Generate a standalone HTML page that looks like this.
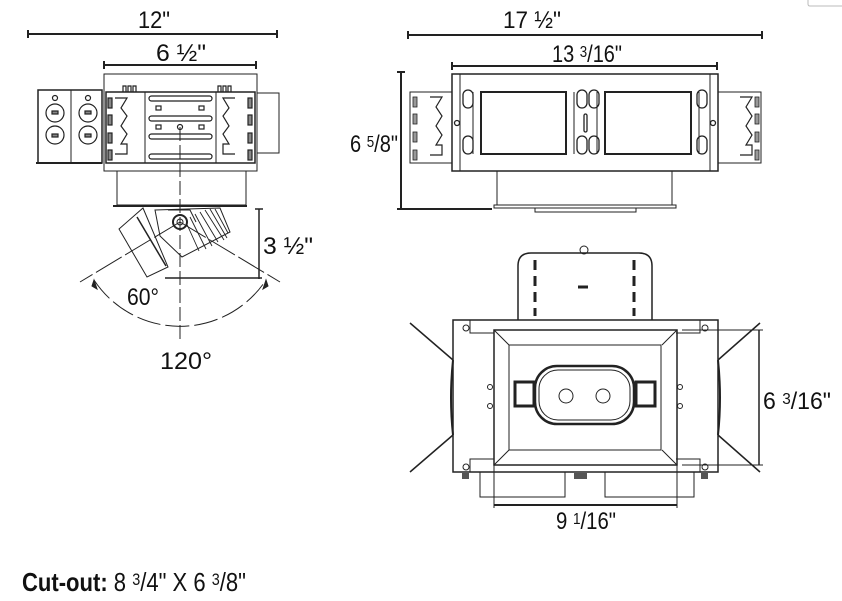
<!DOCTYPE html>
<html><head><meta charset="utf-8"><style>
html,body{margin:0;padding:0;background:#fff;}
svg{display:block;}
text{font-family:"Liberation Sans Narrow","Liberation Sans",sans-serif;fill:#111;}
</style></head><body>
<svg width="842" height="601" viewBox="0 0 842 601" xmlns="http://www.w3.org/2000/svg" fill="none" stroke="#222" stroke-width="1">
<!-- top-left view -->
<text x="138" y="28" font-size="24" textLength="32" lengthAdjust="spacingAndGlyphs" stroke="none">12"</text>
<line x1="28" y1="34" x2="277" y2="34" stroke-width="2"/>
<line x1="28" y1="30" x2="28" y2="38" stroke-width="2"/><line x1="277" y1="30" x2="277" y2="38" stroke-width="2"/>
<text x="156" y="61" font-size="24" textLength="50" lengthAdjust="spacingAndGlyphs" stroke="none">6 ½"</text>
<line x1="104" y1="65" x2="256" y2="65" stroke-width="2"/>
<line x1="104" y1="61" x2="104" y2="69" stroke-width="2"/><line x1="256" y1="61" x2="256" y2="69" stroke-width="2"/>
<rect x="104" y="74" width="153" height="97"/>
<rect x="106" y="92" width="149" height="71" stroke-width="1.5"/>
<line x1="145" y1="92" x2="145" y2="163"/><line x1="216" y1="92" x2="216" y2="163"/>
<g stroke-width="1.2">
<rect x="149" y="96" width="63" height="5" rx="2.5"/><rect x="149" y="116" width="63" height="5" rx="2.5"/>
<rect x="149" y="134" width="63" height="5" rx="2.5"/><rect x="149" y="154" width="63" height="5" rx="2.5"/>
<rect x="156" y="106" width="5" height="4"/><rect x="199" y="106" width="5" height="4"/>
<rect x="156" y="125" width="5" height="4"/><rect x="199" y="125" width="5" height="4"/>
<circle cx="180" cy="127" r="2.5"/>
<path d="M115 98h12l-6 10 6 8-6 10 6 8-6 10h6v10h-12 M235 98h-12l6 10-6 8 6 10-6 8 6 10h-6v10h12"/>
<rect x="108" y="98" width="4" height="10" fill="#888"/><rect x="108" y="115" width="4" height="10" fill="#888"/><rect x="108" y="133" width="4" height="10" fill="#888"/><rect x="108" y="150" width="4" height="10" fill="#888"/>
<rect x="248" y="98" width="4" height="10" fill="#888"/><rect x="248" y="115" width="4" height="10" fill="#888"/><rect x="248" y="133" width="4" height="10" fill="#888"/><rect x="248" y="150" width="4" height="10" fill="#888"/>
<path d="M123 92v-6h3v6 M128 92v-6h3v6 M133 92v-6h3v6 M218 92v-6h3v6 M223 92v-6h3v6 M228 92v-6h3v6"/>
</g>
<rect x="257" y="93" width="22" height="60"/>
<rect x="38" y="90" width="64" height="73" stroke-width="1.5"/>
<line x1="71" y1="90" x2="71" y2="163"/>
<g stroke-width="1.2">
<circle cx="55" cy="113" r="9"/><circle cx="55" cy="135" r="9"/><circle cx="88" cy="113" r="9"/><circle cx="88" cy="135" r="9"/>
<rect x="52" y="111" width="6" height="3" fill="#888"/><rect x="52" y="134" width="6" height="3" fill="#888"/><rect x="85" y="111" width="6" height="3" fill="#888"/><rect x="85" y="134" width="6" height="3" fill="#888"/>
<circle cx="55" cy="98" r="2.5"/><circle cx="88" cy="98" r="2.5"/>
</g>
<line x1="36" y1="163" x2="102" y2="163" stroke-width="2"/>
<rect x="117" y="171" width="129" height="34"/>
<line x1="113" y1="206" x2="247" y2="206" stroke-width="2"/>
<!-- fixture -->
<polygon points="119,229 143,208 168,267 147,277" fill="#fff"/>
<line x1="137" y1="217" x2="166" y2="266" stroke-width="1.5"/>
<polygon points="155,210 220,208 230,232 182,257 160,236" fill="#fff"/>
<path d="M200 212l18 30 M205 210l19 30 M210 209l17 29 M215 209l13 24 M195 214l17 32 M190 217l16 32 M185 220l14 31" stroke-width="0.9"/>
<path d="M168 210h22l6 12" />
<circle cx="180" cy="222" r="7" stroke-width="2" fill="#fff"/><circle cx="180" cy="222" r="3"/>
<line x1="180" y1="127" x2="180" y2="340" stroke-dasharray="14 4"/>
<line x1="259" y1="209" x2="259" y2="279" stroke-width="1.5"/>
<line x1="255" y1="209" x2="263" y2="209" stroke-width="1.5"/>
<line x1="165" y1="278" x2="262" y2="278" stroke-width="1.5"/>
<text x="263" y="254" font-size="24" textLength="50" lengthAdjust="spacingAndGlyphs" stroke="none">3 ½"</text>
<line x1="180" y1="222" x2="80" y2="282" stroke-dasharray="30 4"/>
<line x1="180" y1="222" x2="280" y2="282" stroke-dasharray="30 4"/>
<path d="M94 280 A103 103 0 0 0 266 280" stroke-dasharray="24 5"/>
<path d="M94 280l3 9-5-3z M266 280l-3 9 5-3z" fill="#222"/>
<text x="127" y="305" font-size="24" textLength="32" lengthAdjust="spacingAndGlyphs" stroke="none">60°</text>
<text x="160" y="369" font-size="24" textLength="52" lengthAdjust="spacingAndGlyphs" stroke="none">120°</text>

<!-- top-right view -->
<text x="503" y="28" font-size="24" textLength="58" lengthAdjust="spacingAndGlyphs" stroke="none">17 ½"</text>
<line x1="408" y1="35" x2="762" y2="35" stroke-width="2"/>
<line x1="408" y1="31" x2="408" y2="39" stroke-width="2"/><line x1="762" y1="31" x2="762" y2="39" stroke-width="2"/>
<text x="552" y="62" font-size="24" textLength="70" lengthAdjust="spacingAndGlyphs" stroke="none">13 <tspan font-size="16" dy="-5">3</tspan><tspan dy="5">/16"</tspan></text>
<line x1="452" y1="66" x2="717" y2="66" stroke-width="2"/>
<line x1="452" y1="62" x2="452" y2="70" stroke-width="2"/><line x1="717" y1="62" x2="717" y2="70" stroke-width="2"/>
<rect x="452" y="74" width="266" height="97" stroke-width="1.5"/>
<line x1="460" y1="74" x2="460" y2="171"/><line x1="710" y1="74" x2="710" y2="171"/>
<rect x="481" y="92" width="85" height="62" stroke-width="2"/>
<rect x="605" y="92" width="86" height="62" stroke-width="2"/>
<line x1="473" y1="92" x2="473" y2="154"/><line x1="574" y1="92" x2="574" y2="154"/><line x1="597" y1="92" x2="597" y2="154"/><line x1="699" y1="92" x2="699" y2="154"/>
<g stroke-width="1.3">
<rect x="463" y="90" width="10" height="18" rx="5"/><rect x="463" y="136" width="10" height="18" rx="5"/>
<rect x="577" y="90" width="10" height="18" rx="5"/><rect x="589" y="90" width="10" height="18" rx="5"/>
<rect x="577" y="136" width="10" height="18" rx="5"/><rect x="589" y="136" width="10" height="18" rx="5"/>
<rect x="697" y="90" width="10" height="18" rx="5"/><rect x="697" y="136" width="10" height="18" rx="5"/>
<rect x="584" y="114" width="3" height="18" rx="1.5"/>
<circle cx="457" cy="123" r="2.5"/><circle cx="713" cy="123" r="2.5"/>
</g>
<rect x="410" y="92" width="42" height="71"/>
<rect x="718" y="92" width="43" height="71"/>
<path d="M430 97h12l-6 10 6 9-6 10 6 9-6 10h6v10h-12 M740 97h12l-6 10 6 9-6 10 6 9-6 10h6v10h-12" stroke-width="1.2"/>
<g fill="#999" stroke-width="0.8"><rect x="413" y="97" width="4" height="10"/><rect x="413" y="114" width="4" height="10"/><rect x="413" y="132" width="4" height="10"/><rect x="413" y="150" width="4" height="10"/>
<rect x="755" y="97" width="4" height="10"/><rect x="755" y="114" width="4" height="10"/><rect x="755" y="132" width="4" height="10"/><rect x="755" y="150" width="4" height="10"/></g>
<rect x="497" y="171" width="175" height="34"/>
<rect x="494" y="205" width="182" height="3"/>
<rect x="535" y="208" width="101" height="4"/>
<line x1="401" y1="72" x2="401" y2="209" stroke-width="2"/>
<line x1="397" y1="72" x2="405" y2="72" stroke-width="2"/><line x1="397" y1="209" x2="492" y2="209" stroke-width="2"/>
<text x="350" y="152" font-size="24" textLength="48" lengthAdjust="spacingAndGlyphs" stroke="none">6 <tspan font-size="16" dy="-5">5</tspan><tspan dy="5">/8"</tspan></text>

<!-- bottom-right view -->
<path d="M518 320V266q0-13 13-13h108q13 0 13 13v54" stroke-width="1.5"/>
<path d="M535 260v10 M535 276v10 M535 292v10 M535 308v8 M634 260v10 M634 276v10 M634 292v10 M634 308v8 M578 287h10" stroke-width="3"/>
<rect x="580" y="246" width="8" height="8" rx="4"/>
<rect x="453" y="320" width="265" height="152" stroke-width="1.5"/>
<path d="M470 320v13h24 M700 320v13h-24 M470 472v-13h24 M700 472v-13h-24"/>
<rect x="494" y="330" width="183" height="135" stroke-width="1.5"/>
<rect x="509" y="345" width="152" height="105"/>
<path d="M494 330l15 15 M677 330l-15 15 M494 465l15-15 M677 465l-15-15"/>
<rect x="535" y="366" width="99" height="58" rx="22" stroke-width="2.5"/>
<rect x="539" y="370" width="91" height="50" rx="19"/>
<circle cx="566" cy="396" r="7"/><circle cx="603" cy="396" r="7"/>
<rect x="515" y="382" width="19" height="24" stroke-width="3"/>
<rect x="636" y="382" width="19" height="24" stroke-width="3"/>
<g stroke-width="1"><circle cx="466" cy="328" r="3"/><circle cx="705" cy="328" r="3"/><circle cx="466" cy="467" r="3"/><circle cx="705" cy="467" r="3"/>
<circle cx="490" cy="387" r="2.5"/><circle cx="490" cy="406" r="2.5"/><circle cx="680" cy="387" r="2.5"/><circle cx="680" cy="406" r="2.5"/></g>
<path d="M480 472v25h85v-25 M605 472v25h89v-25"/>
<g fill="#555" stroke="none"><rect x="462" y="473" width="7" height="6"/><rect x="574" y="473" width="13" height="6"/><rect x="701" y="473" width="7" height="6"/></g>
<line x1="410" y1="323" x2="453" y2="360" stroke-width="1.5"/>
<line x1="410" y1="472" x2="453" y2="435" stroke-width="1.5"/>
<line x1="760" y1="323" x2="718" y2="360" stroke-width="1.5"/>
<line x1="760" y1="472" x2="718" y2="435" stroke-width="1.5"/>
<path d="M453 360q-4 38 0 75 M718 360q4 38 0 75" stroke-width="2"/>
<line x1="759" y1="330" x2="759" y2="465" stroke-width="1.5"/>
<line x1="682" y1="330" x2="763" y2="330"/><line x1="682" y1="465" x2="763" y2="465"/>
<text x="763" y="409" font-size="24" textLength="68" lengthAdjust="spacingAndGlyphs" stroke="none">6 <tspan font-size="16" dy="-5">3</tspan><tspan dy="5">/16"</tspan></text>
<line x1="494" y1="505" x2="677" y2="505" stroke-width="2"/>
<line x1="494" y1="465" x2="494" y2="508"/><line x1="677" y1="465" x2="677" y2="508"/>
<text x="556" y="529" font-size="24" textLength="60" lengthAdjust="spacingAndGlyphs" stroke="none">9 <tspan font-size="16" dy="-5">1</tspan><tspan dy="5">/16"</tspan></text>

<path d="M808 0v4q0 2 2 2h32" stroke="#bbb"/>
<text x="22" y="591" font-size="26" stroke="none" textLength="224" lengthAdjust="spacingAndGlyphs"><tspan font-weight="bold">Cut-out:</tspan> 8 <tspan font-size="17" dy="-6">3</tspan><tspan dy="6">/4" X 6 </tspan><tspan font-size="17" dy="-6">3</tspan><tspan dy="6">/8"</tspan></text>
</svg>
</body></html>
